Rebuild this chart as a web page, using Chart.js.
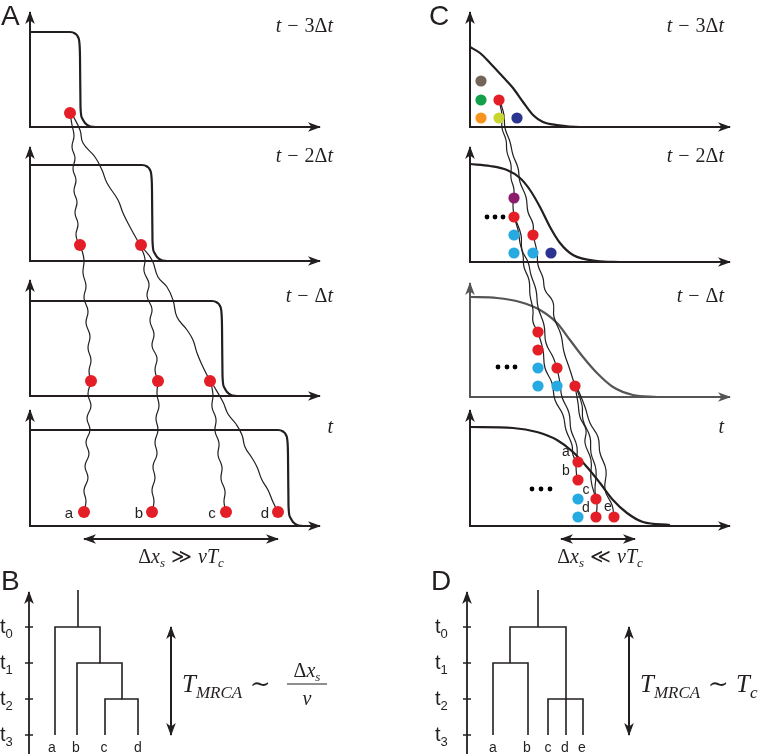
<!DOCTYPE html>
<html>
<head>
<meta charset="utf-8">
<script src="https://cdn.jsdelivr.net/npm/chart.js@4.4.1/dist/chart.umd.min.js"></script>
<style>
    html, body { margin: 0; padding: 0; background: #fff; }
    #wrap { position: relative; width: 762px; height: 754px; }
</style>
</head>
<body>
<div id="wrap"><canvas id="fig"></canvas></div>
<script>
/**
 * 1. Data
 * 2. Datasets
 * 3. Plugins (arrowheads, text)
 * 4. Chart
 */

/** Data */
const INK = '#231f20';
const RED = '#e31e26', CYAN = '#27aae1', NAVY = '#2b3590', PURPLE = '#8c1d6d';
const BROWN = '#736659', GREEN = '#13a04a', ORANGE = '#f7941e', LIME = '#c8d631';
const SERIF = '"Liberation Serif", "DejaVu Serif", serif';
const SANS = '"Liberation Sans", Arial, sans-serif';

// panel A : sharp fronts at four times
const axesA = [
    [[30, 12], [30, 127], [320, 127]],
    [[30, 147], [30, 261], [320, 261]],
    [[30, 280], [30, 396], [320, 396]],
    [[30, 410], [30, 526], [320, 526]]
];
const frontsA = [
    [[30, 32], [70, 32], [75, 33.5], [78, 37], [79.5, 44], [80, 57], [80.5, 107], [82, 118], [85, 123], [89, 126], [95, 127]],
    [[30, 165], [142, 165], [147, 166.5], [150, 170], [151.5, 177], [152, 190], [152.5, 241], [154, 252], [157, 257], [161, 260], [167, 261]],
    [[30, 301], [212, 301], [217, 302.5], [220, 306], [221.5, 313], [222, 326], [222.5, 376], [224, 387], [227, 392], [231, 395], [237, 396]],
    [[30, 430], [278, 430], [283, 431.5], [286, 435], [287.5, 442], [288, 455], [288.5, 506], [290, 517], [293, 522], [297, 525], [303, 526]]
];
const dotsA = [[70, 113], [80, 245], [141, 245], [91, 381], [158, 381], [210, 381], [84, 512], [152, 512], [226, 512], [278, 512]];
const lineagesA = [
    [[70, 113], [72, 125], [74, 136], [72, 147], [75, 158], [73, 169], [76, 180], [74, 191], [77, 202], [75, 213], [78, 224], [76, 235], [79, 245]],
    [[72, 114], [80, 130], [83, 143], [95, 157], [102, 170], [107, 183], [118, 200], [123, 213], [130, 227], [140, 245]],
    [[81, 247], [84, 260], [83, 273], [86, 286], [84, 298], [88, 311], [86, 323], [90, 336], [88, 348], [91, 360], [89, 371], [91, 381]],
    [[141, 247], [145, 259], [144, 271], [149, 284], [147, 296], [152, 309], [150, 321], [154, 334], [152, 346], [157, 358], [155, 370], [158, 381]],
    [[142, 247], [152, 260], [158, 277], [167, 287], [173, 300], [177, 317], [187, 330], [193, 340], [197, 353], [203, 367], [210, 381]],
    [[91, 382], [88, 394], [91, 406], [87, 418], [90, 430], [86, 442], [89, 454], [85, 466], [88, 478], [84, 490], [86, 501], [84, 512]],
    [[158, 382], [157, 394], [159, 406], [156, 418], [158, 430], [155, 442], [157, 454], [153, 466], [155, 478], [152, 490], [154, 501], [152, 512]],
    [[211, 383], [213, 395], [212, 407], [216, 419], [215, 431], [219, 443], [218, 455], [222, 467], [221, 479], [225, 491], [224, 502], [226, 512]],
    [[212, 383], [223, 402], [228, 414], [236, 424], [242, 435], [245, 447], [252, 458], [257, 467], [262, 480], [268, 490], [273, 502], [278, 512]]
];
const leafA = ['a', 'b', 'c', 'd'];
const leafAX = [69, 139, 212, 265];

// panel C : pulled fronts
const axesC = [
    [[470, 12], [470, 127], [730, 127]],
    [[470, 147], [470, 262], [730, 262]],
    [[470, 283], [470, 397], [730, 397]],
    [[470, 410], [470, 526], [730, 526]]
];
const frontsC = [
    [[470, 47], [480, 53], [490, 63], [503, 77], [513, 88], [523, 102], [533, 115], [543, 122], [557, 125], [580, 127], [600, 127]],
    [[470, 164], [490, 166], [507, 170], [520, 178], [530, 190], [540, 207], [550, 227], [560, 243], [573, 255], [597, 261], [620, 262]],
    [[470, 297], [497, 298], [520, 302], [540, 310], [557, 323], [570, 340], [583, 357], [597, 373], [613, 387], [633, 395], [657, 397]],
    [[470, 427], [513, 428], [537, 432], [557, 440], [573, 452], [587, 467], [600, 483], [613, 500], [627, 513], [643, 522], [670, 525]]
];
const dotsC = [
    [481, 81, BROWN], [481, 100, GREEN], [499, 100, RED], [481, 118, ORANGE], [499, 118, LIME], [517, 118, NAVY],
    [514, 198, PURPLE], [514, 217, RED], [514, 235, CYAN], [533, 235, RED], [514, 253, CYAN], [533, 253, CYAN], [551, 253, NAVY],
    [538, 332, RED], [538, 350, RED], [538, 368, CYAN], [557, 368, RED], [538, 386, CYAN], [557, 386, CYAN], [575, 386, RED],
    [578, 462, RED], [578, 480, RED], [578, 499, CYAN], [596, 499, RED], [578, 517, CYAN], [596, 517, RED], [614, 517, RED]
];
const ellipsisC = [[487, 217], [495, 217], [503, 217], [498, 367], [507, 367], [515, 367], [532, 489], [541, 489], [550, 489]];
const lineagesC = [
    [[499, 100], [502, 115], [502, 128], [506, 140], [507, 152], [511, 165], [511, 178], [514, 190], [513, 205], [514, 217]],
    [[500, 101], [504, 115], [505, 128], [510, 142], [513, 155], [518, 168], [520, 182], [526, 197], [528, 212], [533, 224], [533, 235]],
    [[514, 217], [518, 230], [520, 243], [523, 255], [524, 267], [529, 280], [530, 295], [533, 310], [533, 322], [538, 332]],
    [[515, 218], [521, 235], [522, 250], [528, 262], [531, 275], [536, 290], [538, 307], [544, 325], [546, 343], [553, 357], [557, 368]],
    [[533, 235], [537, 252], [538, 265], [543, 278], [545, 290], [553, 302], [554, 317], [561, 335], [564, 352], [570, 370], [575, 386]],
    [[538, 332], [543, 350], [545, 368], [552, 383], [555, 400], [563, 415], [566, 430], [572, 445], [573, 455], [577, 462]],
    [[557, 368], [560, 383], [562, 397], [569, 413], [571, 430], [577, 447], [576, 465], [577, 480]],
    [[575, 386], [578, 403], [580, 417], [586, 430], [585, 443], [591, 460], [591, 480], [596, 499]],
    [[576, 387], [582, 405], [583, 420], [590, 437], [591, 453], [596, 470], [595, 490], [597, 505], [596, 517]],
    [[577, 387], [585, 407], [590, 423], [598, 437], [600, 453], [606, 470], [605, 490], [612, 505], [614, 517]]
];
const leafC = ['a', 'b', 'c', 'd', 'e'];
const leafCXY = [[566, 456], [566, 475], [586, 494], [586, 512], [608, 511]];

// time labels of the four snapshots
const timeLabels = ['t − 3Δt', 't − 2Δt', 't − Δt', 't'];
const timeLabelY = [32, 162, 302, 433];

// trees B and D
const treeTicks = ['0', '1', '2', '3'];
const treeTickY = [627, 663, 699, 735];
const treeB = [
    [[78, 590], [78, 627]],
    [[55, 735], [55, 627], [100, 627], [100, 663], [122, 663], [122, 699], [138, 699], [138, 735]],
    [[77, 735], [77, 663], [100, 663]],
    [[105, 735], [105, 699], [122, 699]]
];
const leafBX = [52, 76, 104, 138];
const treeD = [
    [[538, 590], [538, 627]],
    [[493, 735], [493, 663], [528, 663], [528, 735]],
    [[510, 663], [510, 627], [566, 627], [566, 735]],
    [[548, 735], [548, 699], [583, 699], [583, 735]]
];
const leafDX = [493, 527, 548, 565, 582];

/** Datasets */
let datasets = [];

function pts(list) {
    return list.map(p => ({ x: p[0], y: p[1] }));
}

function addLine(list, opt) {
    opt = opt || {};
    datasets.push({
        data: pts(list),
        borderColor: opt.color || INK,
        borderWidth: opt.width || 2,
        tension: opt.tension || 0,
        cubicInterpolationMode: opt.mono ? 'monotone' : 'default',
        pointRadius: 0,
        fill: false,
        borderJoinStyle: 'miter',
        arrows: opt.arrows || null,
        order: opt.order == null ? 3 : opt.order
    });
}

function addDots(list, radius, colors) {
    datasets.push({
        data: pts(list),
        showLine: false,
        pointRadius: radius,
        pointBorderWidth: 0,
        pointBackgroundColor: colors,
        pointBorderColor: colors,
        order: 0
    });
}

axesA.forEach(a => addLine(a, { arrows: 'both', order: 4 }));
frontsA.forEach(f => addLine(f, { width: 2.2, mono: true, order: 2 }));
lineagesA.forEach(l => addLine(l, { width: 1.2, tension: 0.45, order: 1 }));
addDots(dotsA, 6, RED);

axesC.forEach((a, i) => addLine(a, { arrows: 'both', order: 4, color: i === 2 ? '#555' : INK }));
frontsC.forEach((f, i) => addLine(f, { width: 2.2, mono: true, order: 2, color: i === 2 ? '#555' : INK }));
lineagesC.forEach(l => addLine(l, { width: 1.2, tension: 0.45, order: 1 }));
addDots(dotsC, 5.6, dotsC.map(d => d[2]));
addDots(ellipsisC, 2.4, '#000');

// double arrows
addLine([[84, 539], [278, 539]], { arrows: 'both' });
addLine([[561, 539], [635, 539]], { arrows: 'both' });
addLine([[171, 627], [171, 735]], { arrows: 'both' });
addLine([[629, 627], [629, 735]], { arrows: 'both' });

// tree axes + ticks
addLine([[29, 760], [29, 592]], { arrows: 'end', width: 1.8 });
addLine([[467, 760], [467, 592]], { arrows: 'end', width: 1.8 });
treeTickY.forEach(y => {
    addLine([[25, y], [33, y]], { width: 1.5 });
    addLine([[463, y], [471, y]], { width: 1.5 });
});
treeB.forEach(b => addLine(b, { width: 1.6 }));
treeD.forEach(b => addLine(b, { width: 1.6 }));
// fraction bar
addLine([[287, 684], [327, 684]], { width: 1.1 });

/** Text */
function mathRuns(src, px) {
    let runs = [];
    let i = 0;
    while (i < src.length) {
        let ch = src[i];
        let sub = false;
        if (ch === '_') {
            sub = true;
            i++;
            if (src[i] === '{') {
                const j = src.indexOf('}', i);
                ch = src.slice(i + 1, j);
                i = j + 1;
            } else {
                ch = src[i];
                i++;
            }
        } else {
            i++;
        }
        if (ch === ' ') {
            runs.push({ s: '', f: px + 'px ' + SERIF, dy: 0, g: px * 0.3 });
            continue;
        }
        const size = sub ? Math.round(px * 0.66) : px;
        const italic = /[A-Za-z]/.test(ch);
        runs.push({ s: ch, f: (italic ? 'italic ' : '') + size + 'px ' + SERIF, dy: sub ? px * 0.22 : 0, g: 0 });
    }
    return runs;
}

function sansRuns(s, px) {
    return [{ s: s, f: px + 'px ' + SANS, dy: 0, g: 0 }];
}

let labels = [];
labels.push({ x: 1, y: 25, align: 'left', runs: sansRuns('A', 28) });
labels.push({ x: 429, y: 25, align: 'left', runs: sansRuns('C', 28) });
labels.push({ x: 1, y: 590, align: 'left', runs: sansRuns('B', 28) });
labels.push({ x: 431, y: 590, align: 'left', runs: sansRuns('D', 28) });

timeLabels.forEach((t, i) => {
    labels.push({ x: 333, y: timeLabelY[i], align: 'right', runs: mathRuns(t, 20) });
    labels.push({ x: 724, y: timeLabelY[i], align: 'right', runs: mathRuns(t, 20) });
});

leafA.forEach((s, i) => labels.push({ x: leafAX[i], y: 518, align: 'center', runs: sansRuns(s, 15) }));
leafC.forEach((s, i) => labels.push({ x: leafCXY[i][0], y: leafCXY[i][1], align: 'center', runs: sansRuns(s, 14) }));
leafA.forEach((s, i) => labels.push({ x: leafBX[i], y: 752, align: 'center', runs: sansRuns(s, 14) }));
leafC.forEach((s, i) => labels.push({ x: leafDX[i], y: 752, align: 'center', runs: sansRuns(s, 14) }));

treeTicks.forEach((k, i) => {
    const runs = [{ s: 't', f: '20px ' + SANS, dy: 0, g: 0 }, { s: k, f: '13px ' + SANS, dy: 5, g: 0 }];
    labels.push({ x: 0, y: treeTickY[i] + 6, align: 'left', runs: runs });
    labels.push({ x: 435, y: treeTickY[i] + 6, align: 'left', runs: runs });
});

labels.push({ x: 181, y: 563, align: 'center', runs: mathRuns('Δx_s ≫ vT_c', 20) });
labels.push({ x: 600, y: 563, align: 'center', runs: mathRuns('Δx_s ≪ vT_c', 20) });
labels.push({ x: 182, y: 692, align: 'left', runs: mathRuns('T_{MRCA} ∼', 25) });
labels.push({ x: 307, y: 677, align: 'center', runs: mathRuns('Δx_s', 20) });
labels.push({ x: 307, y: 705, align: 'center', runs: mathRuns('v', 20) });
labels.push({ x: 640, y: 692, align: 'left', runs: mathRuns('T_{MRCA} ∼ T_c', 25) });

/** Plugins */
const arrowPlugin = {
    id: 'arrowHeads',
    afterDatasetsDraw: function (chart) {
        const ctx = chart.ctx;
        chart.data.datasets.forEach((ds, i) => {
            if (!ds.arrows) return;
            const p = chart.getDatasetMeta(i).data;
            const n = p.length;
            if (ds.arrows === 'end' || ds.arrows === 'both') Local.arrow(ctx, p[n - 2], p[n - 1], ds.borderColor);
            if (ds.arrows === 'start' || ds.arrows === 'both') Local.arrow(ctx, p[1], p[0], ds.borderColor);
        });
    }
};

const textPlugin = {
    id: 'mathText',
    afterDraw: function (chart) {
        const ctx = chart.ctx;
        const sx = chart.scales.x, sy = chart.scales.y;
        ctx.save();
        ctx.fillStyle = INK;
        ctx.textBaseline = 'alphabetic';
        ctx.textAlign = 'left';
        labels.forEach(lb => {
            let total = 0;
            lb.runs.forEach(r => {
                ctx.font = r.f;
                r.w = ctx.measureText(r.s).width + r.g;
                total += r.w;
            });
            let x = sx.getPixelForValue(lb.x);
            const y = sy.getPixelForValue(lb.y);
            if (lb.align === 'center') x -= total / 2;
            if (lb.align === 'right') x -= total;
            lb.runs.forEach(r => {
                ctx.font = r.f;
                ctx.fillText(r.s, x, y + r.dy);
                x += r.w;
            });
        });
        ctx.restore();
    }
};

let Local = {
    arrow: function (ctx, from, to, color) {
        const ang = Math.atan2(to.y - from.y, to.x - from.x);
        const len = 12, half = 4.8, notch = 3.5;
        ctx.save();
        ctx.translate(to.x, to.y);
        ctx.rotate(ang);
        ctx.fillStyle = color;
        ctx.beginPath();
        ctx.moveTo(1, 0);
        ctx.lineTo(-len, -half);
        ctx.lineTo(-len + notch, 0);
        ctx.lineTo(-len, half);
        ctx.closePath();
        ctx.fill();
        ctx.restore();
    }
};

/** Chart */
new Chart(document.getElementById('fig').getContext('2d'), {
    type: 'line',
    data: { datasets: datasets },
    options: {
        responsive: true,
        maintainAspectRatio: false,
        animation: false,
        devicePixelRatio: 1,
        layout: { padding: 0, autoPadding: false },
        events: [],
        plugins: { legend: { display: false }, tooltip: { enabled: false } },
        scales: {
            x: { type: 'linear', min: 0, max: 762, display: false },
            y: { type: 'linear', min: 0, max: 754, reverse: true, display: false }
        }
    },
    plugins: [arrowPlugin, textPlugin]
});
</script>
</body>
</html>
